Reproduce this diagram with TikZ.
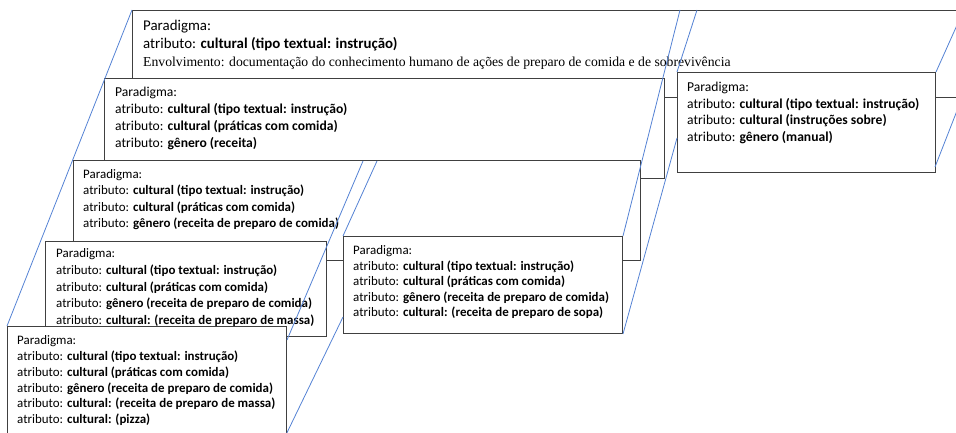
\documentclass[tikz,border=0pt]{standalone}
\usepackage{fontspec}
\setmainfont{Carlito}
\newfontfamily\serifa{Liberation Serif}
\definecolor{azul}{RGB}{84,130,212}
\definecolor{borda}{RGB}{64,64,64}

\tikzset{
  caixa/.style={draw=borda, line width=1pt, fill=white, anchor=north west, inner sep=0pt},
  texto/.style 2 args={anchor=north west, inner sep=0pt, align=left, text=black,
    font=\fontsize{#1}{#2}\selectfont},
  linha/.style={azul, line width=0.8pt},
}

\begin{document}
\begin{tikzpicture}[x=1pt,y=-1pt]
\useasboundingbox (0,0) rectangle (956,433);
\clip (0,0) rectangle (956,433);

% plano de cima
\node[caixa, minimum width=900pt, minimum height=87pt] (instrucao) at (132,10) {};
\node[texto={14.9pt}{18pt}] (t-instrucao) at ([shift={(11,10)}]instrucao.north west)
  {Paradigma:\\atributo: \textbf{cultural (tipo textual: instrução)}\\
   {\serifa\fontsize{13.7pt}{18pt}\selectfont Envolvimento: documentação do conhecimento humano de ações de preparo de comida e de sobrevivência}};

\node[caixa, minimum width=258pt, minimum height=100pt] (manual) at (677,72) {};
\node[texto={13.6pt}{16.5pt}] (t-manual) at ([shift={(10,10)}]manual.north west)
  {Paradigma:\\atributo: \textbf{cultural (tipo textual: instrução)}\\
   atributo: \textbf{cultural (instruções sobre)}\\atributo: \textbf{gênero (manual)}};

\node[caixa, minimum width=560pt, minimum height=100pt] (receita) at (104,78) {};
\node[texto={13.6pt}{17pt}] (t-receita) at ([shift={(11,9)}]receita.north west)
  {Paradigma:\\atributo: \textbf{cultural (tipo textual: instrução)}\\
   atributo: \textbf{cultural (práticas com comida)}\\atributo: \textbf{gênero (receita)}};

% receita de preparo de comida
\node[caixa, minimum width=567pt, minimum height=100pt] (comida) at (73,160) {};
\node[texto={12.95pt}{16.3pt}] (t-comida) at ([shift={(10,9.5)}]comida.north west)
  {Paradigma:\\atributo: \textbf{cultural (tipo textual: instrução)}\\
   atributo: \textbf{cultural (práticas com comida)}\\
   atributo: \textbf{gênero (receita de preparo de comida)}};

\node[caixa, minimum width=281pt, minimum height=95pt] (massa) at (45,241) {};
\node[texto={12.95pt}{16.7pt}] (t-massa) at ([shift={(11,7.5)}]massa.north west)
  {Paradigma:\\atributo: \textbf{cultural (tipo textual: instrução)}\\
   atributo: \textbf{cultural (práticas com comida)}\\
   atributo: \textbf{gênero (receita de preparo de comida)}\\
   atributo: \textbf{cultural: (receita de preparo de massa)}};

\node[caixa, minimum width=279pt, minimum height=97pt] (sopa) at (343,236) {};
\node[texto={12.95pt}{15.5pt}] (t-sopa) at ([shift={(10,9.5)}]sopa.north west)
  {Paradigma:\\atributo: \textbf{cultural (tipo textual: instrução)}\\
   atributo: \textbf{cultural (práticas com comida)}\\
   atributo: \textbf{gênero (receita de preparo de comida)}\\
   atributo: \textbf{cultural: (receita de preparo de sopa)}};

\node[caixa, minimum width=279pt, minimum height=130pt] (pizza) at (7,326) {};
\node[texto={12.95pt}{15.8pt}] (t-pizza) at ([shift={(10,9.5)}]pizza.north west)
  {Paradigma:\\atributo: \textbf{cultural (tipo textual: instrução)}\\
   atributo: \textbf{cultural (práticas com comida)}\\
   atributo: \textbf{gênero (receita de preparo de comida)}\\
   atributo: \textbf{cultural: (receita de preparo de massa)}\\
   atributo: \textbf{cultural: (pizza)}};

% linhas azuis
\coordinate (a1) at (680,10);
\coordinate (a2) at (697,10);
\coordinate (a3) at (677,138);
\coordinate (a4) at (962,14);
\coordinate (a5) at (935,167);
\coordinate (a6) at (960,103);
\coordinate (b1) at (363,161);
\coordinate (b2) at (287,340);
\coordinate (b3) at (377,161);
\coordinate (b4) at (343,317);
\coordinate (b5) at (282,443);
\draw[linha] (instrucao.north west) -- (pizza.north west);
\draw[linha] (a1) -- (sopa.north east);
\draw[linha] (a2) -- (manual.north west);
\draw[linha] (a3) -- (sopa.south east);
\draw[linha] (manual.north east) -- (a4);
\draw[linha] (a5) -- (a6);
\draw[linha] (b1) -- (b2);
\draw[linha] (b3) -- (sopa.north west);
\draw[linha] (b4) -- (b5);
\end{tikzpicture}
\end{document}
